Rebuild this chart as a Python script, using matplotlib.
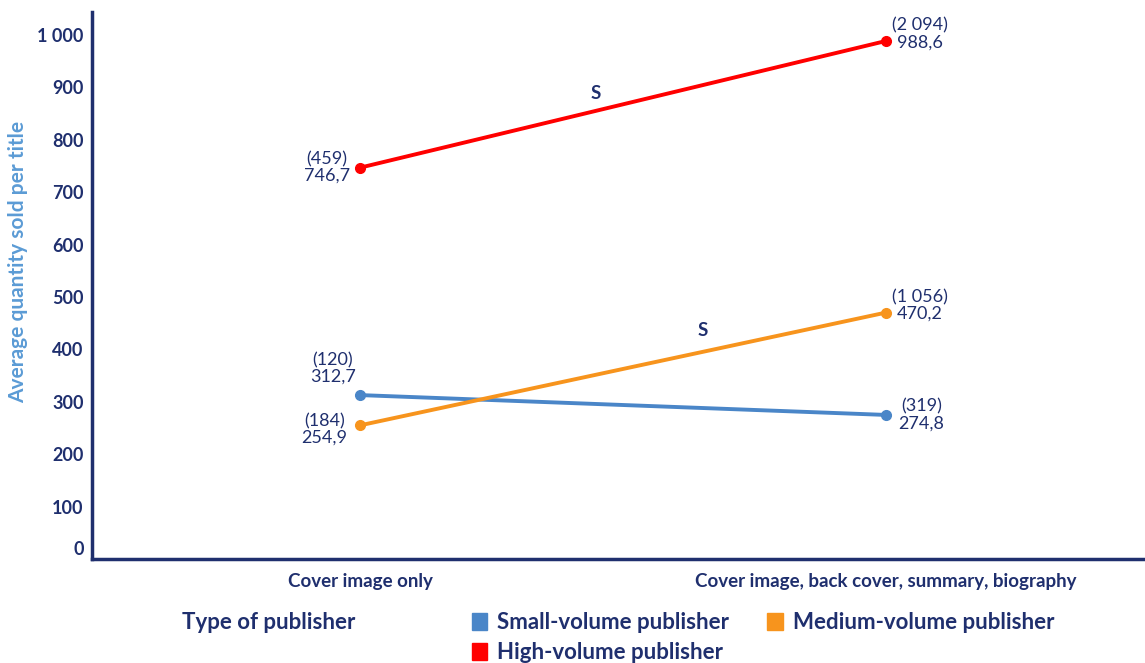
import matplotlib
matplotlib.use("Agg")
from matplotlib import pyplot as plt
from matplotlib.patches import Patch
from matplotlib.transforms import ScaledTranslation

plt.rcParams['font.family'] = ['Lato', 'DejaVu Sans']

navy = "#1F2F6E"

# Information shown on the back of the book
categories = ["Cover image only", "Cover image, back cover, summary, biography"]

# Average quantity sold per title, by publisher size
series_names = ["Small-volume publisher", "Medium-volume publisher", "High-volume publisher"]
small_vals = [312.7, 274.8]
medium_vals = [254.9, 470.2]
high_vals = [746.7, 988.6]

# Number of titles behind each average
small_n = [120, 319]
medium_n = [184, 1056]
high_n = [459, 2094]

colors = ["#4A86C8", "#F7941D", "#FF0000"]

# Significance flags: (x position, y position)
sig_marks = [(0.449, 889), (0.652, 436)]

# label offsets in points, (left point, right point) per series
label_offsets = [[(-3, 19), (9, 0)],
                 [(-9, -3), (4, 5)],
                 [(-7, 0), (4, 5)]]


def fmt_n(n):
    return "({:,})".format(n).replace(",", " ")


def fmt_v(v):
    return "{:.1f}".format(v).replace(".", ",")


fig = plt.figure(figsize=(11.45, 6.63), dpi=100)
ax = fig.add_axes([0.0803, 0.157, 0.9197, 0.825])

x = list(range(len(categories)))
values = [small_vals, medium_vals, high_vals]
counts = [small_n, medium_n, high_n]

for vals, ns, col, name, offs in zip(values, counts, colors, series_names, label_offsets):
    ax.plot(x, vals, color=col, lw=2.8, marker="o", ms=7, label=name,
            solid_capstyle="round")
    for i in range(2):
        ax.annotate(fmt_n(ns[i]) + "\n" + fmt_v(vals[i]), (x[i], vals[i]),
                    xytext=offs[i], textcoords="offset points",
                    ha="right" if i == 0 else "left", va="center",
                    multialignment="center", fontsize=13, color=navy,
                    linespacing=1.05)

for sx, sy in sig_marks:
    ax.text(sx, sy, "S", ha="center", va="center", fontsize=13.5,
            fontweight="bold", color=navy)

ax.set_xlim(-0.5095, 1.4924)
ax.set_ylim(0, 1044)
ax.set_xticks(x)
ax.set_xticklabels(categories, fontsize=13.5, fontweight="bold", color=navy)
ax.set_yticks(range(0, 1001, 100))
ax.set_yticklabels([f"{v:,}".replace(",", " ") for v in range(0, 1001, 100)],
                   fontsize=13, fontweight="bold", color=navy)
ax.tick_params(axis="both", length=0)
ax.tick_params(axis="x", pad=10)
ax.tick_params(axis="y", pad=6)

# nudge the zero label up off the baseline
zero_lbl = ax.get_yticklabels()[0]
zero_lbl.set_transform(zero_lbl.get_transform() +
                       ScaledTranslation(0, 8 / 72, fig.dpi_scale_trans))

for side in ["top", "right"]:
    ax.spines[side].set_visible(False)
for side in ["left", "bottom"]:
    ax.spines[side].set_color(navy)
    ax.spines[side].set_linewidth(2.5)

ax.set_ylabel("Average quantity sold per title", fontsize=15,
              fontweight="bold", color="#5B9BD5")
ax.yaxis.set_label_coords(-0.0605, 0.543)

fig.text(0.159, 0.061, "Type of publisher", fontsize=16, fontweight="bold",
         color=navy, va="center")

handles = [Patch(color=c) for c in colors]
order = [0, 2, 1]
leg = fig.legend([handles[i] for i in order], [series_names[i] for i in order],
                 ncol=2, loc="upper left", bbox_to_anchor=(0.412, 0.077),
                 frameon=False, handlelength=0.7, handleheight=0.8,
                 handletextpad=0.45, columnspacing=1.7, labelspacing=0.42,
                 borderaxespad=0, borderpad=0,
                 prop={"size": 16, "weight": "bold"})
for t in leg.get_texts():
    t.set_color(navy)

fig.savefig("out.png", dpi=100)
